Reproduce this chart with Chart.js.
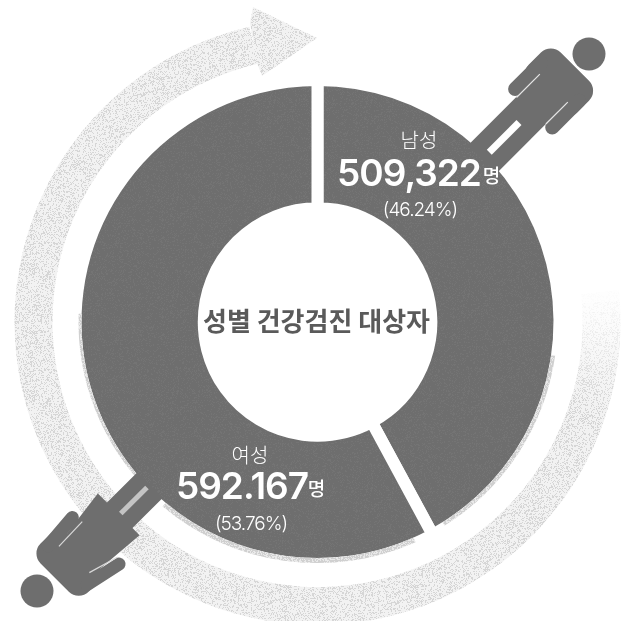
<!DOCTYPE html>
<html lang="ko">
<head>
<meta charset="utf-8">
<style>
html,body{margin:0;padding:0;background:#fff}
#wrap{position:relative;width:621px;height:621px}
</style>
<script src="https://cdn.jsdelivr.net/npm/chart.js@4/dist/chart.umd.min.js"></script>
</head>
<body>
<div id="wrap"><canvas id="c" width="621" height="621"></canvas></div>
<script>
const categories = ['남성', '여성'];
const headcountLabels = ['509,322', '592.167'];
const percentLabels = ['(46.24%)', '(53.76%)'];
const unitLabel = '명';
const centerTitle = '성별 건강검진 대상자';
// Slice sizes: the printed ring splits at about 152 deg,
// which differs from the printed 46.24 / 53.76 labels, so it is kept separately.
const drawnShare = [42.1, 57.9];

const RING = '#6e6e6e';
const FONT = '"Noto Sans CJK KR","Noto Sans",sans-serif';
const NUMFONT = 'Inter,Roboto,sans-serif';

function stipple(ctx, base, inkAlpha, ink, size, density) {
  const p = document.createElement('canvas');
  p.width = p.height = size;
  const g = p.getContext('2d');
  g.fillStyle = base; g.fillRect(0, 0, size, size);
  let s = 12345;
  for (let y = 0; y < size; y++) for (let x = 0; x < size; x++) {
    s = (s * 1103515245 + 12345) & 0x7fffffff;
    if ((s >> 8) % 100 < density) {
      g.fillStyle = ink; g.globalAlpha = inkAlpha;
      g.fillRect(x, y, 1, 1);
    }
  }
  return ctx.createPattern(p, 'repeat');
}

const canvas = document.getElementById('c');
const ctx0 = canvas.getContext('2d');
const ringFill = stipple(ctx0, RING, 0.3, '#858585', 97, 20);
const bandFill = stipple(ctx0, '#f2f2f2', 0.7, '#cbcbcb', 127, 30);
const shadowFill = stipple(ctx0, '#d0d0d0', 0.7, '#f4f4f4', 61, 35);

function bandPath(ctx, cx, cy, rIn, rOut, a0, a1) {
  ctx.beginPath();
  ctx.arc(cx, cy, rOut, a0, a1);
  ctx.arc(cx, cy, rIn, a1, a0, true);
  ctx.closePath();
}
const D = Math.PI / 180;

function drawBands(ctx, cx, cy) {
  const startA = -6 * D, fadeEnd = 16 * D, endA = (270 - 13) * D;
  ctx.save();
  ctx.fillStyle = bandFill;
  bandPath(ctx, cx, cy, 265, 303, fadeEnd, endA);
  ctx.fill();
  for (let i = 0; i < 11; i++) {
    ctx.globalAlpha = (i + 1) / 12;
    const a = startA + (fadeEnd - startA) * i / 11;
    const b = startA + (fadeEnd - startA) * (i + 1) / 11;
    bandPath(ctx, cx, cy, 265, 303, a, b + 0.002);
    ctx.fill();
  }
  ctx.globalAlpha = 1;
  ctx.beginPath();
  ctx.moveTo(250, 23); ctx.lineTo(253, 7); ctx.lineTo(317, 38);
  ctx.lineTo(262, 76); ctx.lineTo(257, 63);
  ctx.closePath();
  ctx.fill();
  ctx.restore();
}
function drawShadow(ctx, cx, cy) {
  ctx.save();
  ctx.fillStyle = shadowFill;
  bandPath(ctx, cx, cy, 236, 240, 8 * D, 58 * D);
  ctx.fill();
  bandPath(ctx, cx, cy, 236, 241, 66 * D, 130 * D);
  ctx.fill();
  bandPath(ctx, cx, cy, 236, 239, 135 * D, 182 * D);
  ctx.fill();
  ctx.restore();
}

function person(ctx, hx, hy, dir, build) {
  ctx.save();
  ctx.fillStyle = RING; ctx.strokeStyle = RING;
  ctx.beginPath(); ctx.arc(hx, hy, 16.5, 0, 7); ctx.fill();
  const s = Math.SQRT1_2;
  // local x (across) points to lower-right, local y (along) points toward the ring
  ctx.transform(s, s, dir * s, -dir * s, hx, hy);
  build(ctx);
  ctx.restore();
}
function arm(ctx, x0, y0, x1, y1, w) {
  ctx.lineWidth = w; ctx.lineCap = 'round';
  ctx.beginPath(); ctx.moveTo(x0, y0); ctx.lineTo(x1, y1); ctx.stroke();
}
function slit(ctx, color, x0, y0, x1, y1, w) {
  ctx.save();
  ctx.strokeStyle = color; ctx.lineWidth = w; ctx.lineCap = 'butt';
  ctx.beginPath(); ctx.moveTo(x0, y0); ctx.lineTo(x1, y1); ctx.stroke();
  ctx.restore();
}
function buildMale(ctx) {
  ctx.beginPath(); ctx.roundRect(-35, 19, 68, 45, 14); ctx.fill();
  ctx.beginPath(); ctx.rect(-21, 50, 40, 100); ctx.fill();
  arm(ctx, -27.5, 40, -27.5, 77, 14);
  arm(ctx, 26, 40, 26, 78, 14);
  slit(ctx, '#e6e6e6', -20.5, 49, -20.5, 82, 1.2);
  slit(ctx, '#e6e6e6', 19, 49, 19, 80, 1.2);
  slit(ctx, '#ffffff', -1, 98, -1, 140, 7);
}
function buildFemale(ctx) {
  ctx.beginPath(); ctx.roundRect(-31, 22, 68, 40, 14); ctx.fill();
  ctx.beginPath();
  ctx.moveTo(-18, 50); ctx.lineTo(-26, 112); ctx.lineTo(-13, 112);
  ctx.lineTo(-13, 155); ctx.lineTo(23, 155); ctx.lineTo(23, 112);
  ctx.lineTo(33, 112); ctx.lineTo(28, 50); ctx.closePath(); ctx.fill();
  arm(ctx, -24, 40, -27, 77, 13);
  arm(ctx, 31, 40, 39, 77, 13);
  slit(ctx, '#d9d9d9', -16, 47, -17, 81, 1.2);
  slit(ctx, '#d9d9d9', 24, 50, 33, 81, 1.2);
  slit(ctx, '#c4c4c4', 4.5, 114, 4.5, 151, 5);
}

function txt(ctx, s, x, y, font, color, align, spacing) {
  ctx.font = font; ctx.fillStyle = color;
  ctx.textAlign = align || 'center'; ctx.textBaseline = 'middle';
  ctx.letterSpacing = spacing || '0px';
  ctx.fillText(s, x, y);
  ctx.letterSpacing = '0px';
}

const decor = {
  id: 'decor',
  beforeDatasetsDraw(chart) {
    const arc = chart.getDatasetMeta(0).data[0];
    drawBands(chart.ctx, arc.x, arc.y);
  },
  afterDatasetsDraw(chart) {
    const ctx = chart.ctx, arc = chart.getDatasetMeta(0).data[0];
    drawShadow(ctx, arc.x, arc.y);
    person(ctx, 589, 54, -1, buildMale);
    person(ctx, 37, 591, 1, buildFemale);
    ctx.save();
    txt(ctx, categories[0], 419, 140, '300 20px ' + FONT, '#fff');
    txt(ctx, headcountLabels[0], 409, 175, '600 37px ' + NUMFONT, '#fff', 'center', '-1px');
    txt(ctx, unitLabel, 491.5, 176, '500 19px ' + FONT, '#fff');
    txt(ctx, percentLabels[0], 420, 210, '300 19px ' + NUMFONT, '#fff', 'center', '-1px');
    txt(ctx, categories[1], 250, 455, '300 20px ' + FONT, '#fff');
    txt(ctx, headcountLabels[1], 242, 488, '600 37px ' + NUMFONT, '#fff', 'center', '-1px');
    txt(ctx, unitLabel, 316.5, 489, '500 19px ' + FONT, '#fff');
    txt(ctx, percentLabels[1], 251, 524, '300 19px ' + NUMFONT, '#fff', 'center', '-1px');
    txt(ctx, centerTitle, 316.5, 321, '600 26px ' + FONT, '#5a5a5a');
    ctx.restore();
  }
};

new Chart(canvas, {
  type: 'doughnut',
  data: {
    labels: categories,
    datasets: [{
      data: drawnShare,
      backgroundColor: [ringFill, ringFill],
      borderColor: '#ffffff',
      borderWidth: 12
    }]
  },
  plugins: [decor],
  options: {
    responsive: false,
    animation: false,
    radius: 242,
    cutout: '47%',
    layout: { padding: { left: 14, top: 23 } },
    plugins: { legend: { display: false }, tooltip: { enabled: false } }
  }
});
</script>
</body>
</html>
